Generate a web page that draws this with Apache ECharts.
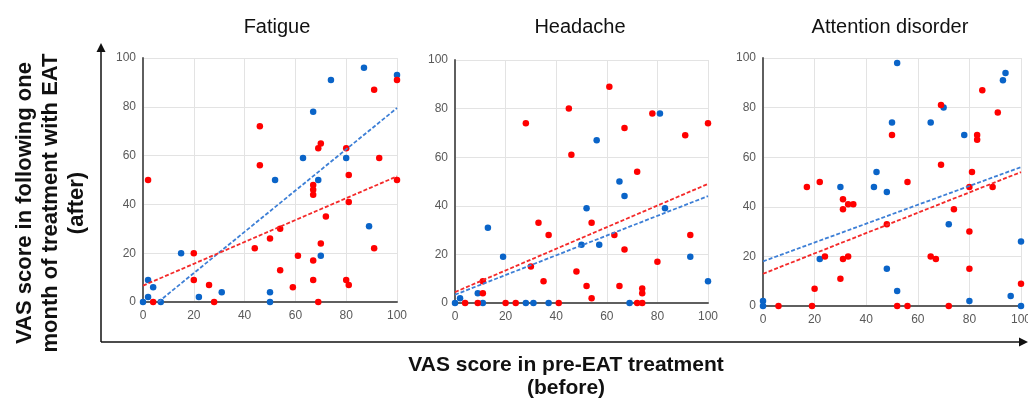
<!DOCTYPE html>
<html><head><meta charset="utf-8">
<script src="https://cdn.jsdelivr.net/npm/echarts@6/dist/echarts.min.js"></script>
<style>html,body{margin:0;padding:0;background:#fff}#c{width:1028px;height:398px}</style>
</head><body><div id="c"></div>
<script>
const panelTitles = ['Fatigue', 'Headache', 'Attention disorder'];
const tickValues = [0, 20, 40, 60, 80, 100];

// Fatigue
const fatigueBlue = [[0,0],[2,9],[2,2],[4,6],[7,0],[15,20],[22,2],[31,4],[50,4],[50,0],[52,50],[63,59],[67,78],[69,50],[70,19],[74,91],[80,59],[87,96],[89,31],[100,93]];
const fatigueRed = [[2,50],[4,0],[20,20],[20,9],[26,7],[28,0],[44,22],[46,72],[46,56],[50,26],[54,30],[54,13],[59,6],[61,19],[67,48],[67,46],[67,44],[67,17],[67,9],[69,63],[70,65],[69,0],[70,24],[72,35],[80,63],[81,52],[81,41],[80,9],[81,7],[91,87],[91,22],[93,59],[100,91],[100,50]];
const fatigueBlueTrend = [[6,0],[100,79.5]];
const fatigueRedTrend = [[0,6.7],[100,51.5]];

// Headache
const headacheBlue = [[0,0],[2,2],[9,4],[11,0],[13,31],[19,19],[28,0],[31,0],[37,0],[50,24],[52,39],[56,67],[57,24],[65,50],[67,44],[69,0],[81,78],[83,39],[93,19],[100,9]];
const headacheRed = [[4,0],[9,0],[11,9],[11,4],[20,0],[24,0],[28,74],[30,15],[33,33],[35,9],[37,28],[41,0],[45,80],[46,61],[48,13],[52,7],[54,33],[54,2],[61,89],[63,28],[65,7],[67,72],[67,22],[72,54],[72,0],[74,6],[74,4],[74,0],[78,78],[80,17],[91,69],[93,28],[100,74]];
const headacheBlueTrend = [[0,3.4],[100,44]];
const headacheRedTrend = [[0,4.5],[100,49]];

// Attention disorder
const attentionBlue = [[0,2],[0,0],[22,19],[30,48],[43,48],[44,54],[48,46],[48,15],[50,74],[52,98],[52,6],[65,74],[70,80],[72,33],[78,69],[80,2],[93,91],[94,94],[96,4],[100,26],[100,0]];
const attentionRed = [[6,0],[17,48],[19,0],[20,7],[22,50],[24,20],[30,11],[31,43],[31,39],[31,19],[33,41],[33,20],[35,41],[48,33],[50,69],[52,0],[56,50],[56,0],[65,20],[67,19],[69,81],[69,57],[72,0],[74,39],[80,48],[80,30],[80,15],[81,54],[83,69],[83,67],[85,87],[91,78],[89,48],[100,9]];
const attentionBlueTrend = [[0,18],[100,56]];
const attentionRedTrend = [[0,13],[100,54]];

const blueSets = [fatigueBlue, headacheBlue, attentionBlue];
const redSets = [fatigueRed, headacheRed, attentionRed];
const blueTrends = [fatigueBlueTrend, headacheBlueTrend, attentionBlueTrend];
const redTrends = [fatigueRedTrend, headacheRedTrend, attentionRedTrend];

const BLUE = '#0a64c8', RED = '#ff0000';
const FONT = '"Liberation Sans", Arial, sans-serif';
const grids = [
  {left:143, top:58, width:254, height:244},
  {left:455, top:60, width:253, height:243},
  {left:763, top:58, width:258, height:248}
].map(g => Object.assign(g, {containLabel:false, outerBoundsMode:'none'}));
const titleX = [272, 575, 885];

const xAxes = [], yAxes = [], series = [], titles = [];
grids.forEach((g, i) => {
  const common = {
    type:'value', min:0, max:100, interval:20, gridIndex:i,
    axisLine:{show:true, onZero:false, lineStyle:{color:'#5f5f5f', width:2}},
    axisTick:{show:false},
    splitLine:{show:true, lineStyle:{color:'#e3e3e3', width:1}},
    axisLabel:{color:'#595959', fontSize:12, fontFamily:FONT, margin:7,
      formatter: v => tickValues.includes(v) ? String(v) : ''}
  };
  xAxes.push(Object.assign({}, common, {axisLabel:Object.assign({}, common.axisLabel, {margin:8})}));
  yAxes.push(Object.assign({}, common));
  titles.push({text:panelTitles[i], left:titleX[i], top:12, textAlign:'center',
    textStyle:{fontSize:20, fontWeight:'normal', color:'#111', fontFamily:FONT}});
  series.push({type:'scatter', xAxisIndex:i, yAxisIndex:i, data:blueSets[i], symbolSize:6.5,
    itemStyle:{color:BLUE, opacity:1}, z:3, silent:true});
  series.push({type:'scatter', xAxisIndex:i, yAxisIndex:i, data:redSets[i], symbolSize:6.5,
    itemStyle:{color:RED, opacity:1}, z:3, silent:true});
  series.push({type:'line', xAxisIndex:i, yAxisIndex:i, data:blueTrends[i], symbol:'none',
    lineStyle:{color:'#3d7fd6', width:1.8, type:[4,2]}, z:4, silent:true});
  series.push({type:'line', xAxisIndex:i, yAxisIndex:i, data:redTrends[i], symbol:'none',
    lineStyle:{color:'#f42a2a', width:1.8, type:[4,2]}, z:4, silent:true});
});

const chart = echarts.init(document.getElementById('c'), null, {renderer:'canvas'});
chart.setOption({
  animation:false,
  backgroundColor:'#fff',
  title:titles,
  grid:grids,
  xAxis:xAxes,
  yAxis:yAxes,
  series:series,
  graphic:[
    {type:'line', shape:{x1:101, y1:342, x2:101, y2:50}, style:{stroke:'#111', lineWidth:1.5}, z:10},
    {type:'polygon', shape:{points:[[101,43],[96.5,52],[105.5,52]]}, style:{fill:'#111'}, z:10},
    {type:'line', shape:{x1:101, y1:342, x2:1020, y2:342}, style:{stroke:'#111', lineWidth:1.5}, z:10},
    {type:'polygon', shape:{points:[[1028,342],[1019,337.5],[1019,346.5]]}, style:{fill:'#111'}, z:10},
    {type:'text', x:51, y:203, rotation:Math.PI/2,
      style:{text:'VAS score in following one\nmonth of treatment with EAT\n(after)', fill:'#111',
        font:'bold 22px ' + FONT, lineHeight:26, align:'center', verticalAlign:'middle'}, z:10},
    {type:'text', x:566, y:377,
      style:{text:'VAS score in pre-EAT treatment\n(before)', fill:'#111',
        font:'bold 21px ' + FONT, lineHeight:23, align:'center', verticalAlign:'middle'}, z:10}
  ]
});
</script></body></html>
